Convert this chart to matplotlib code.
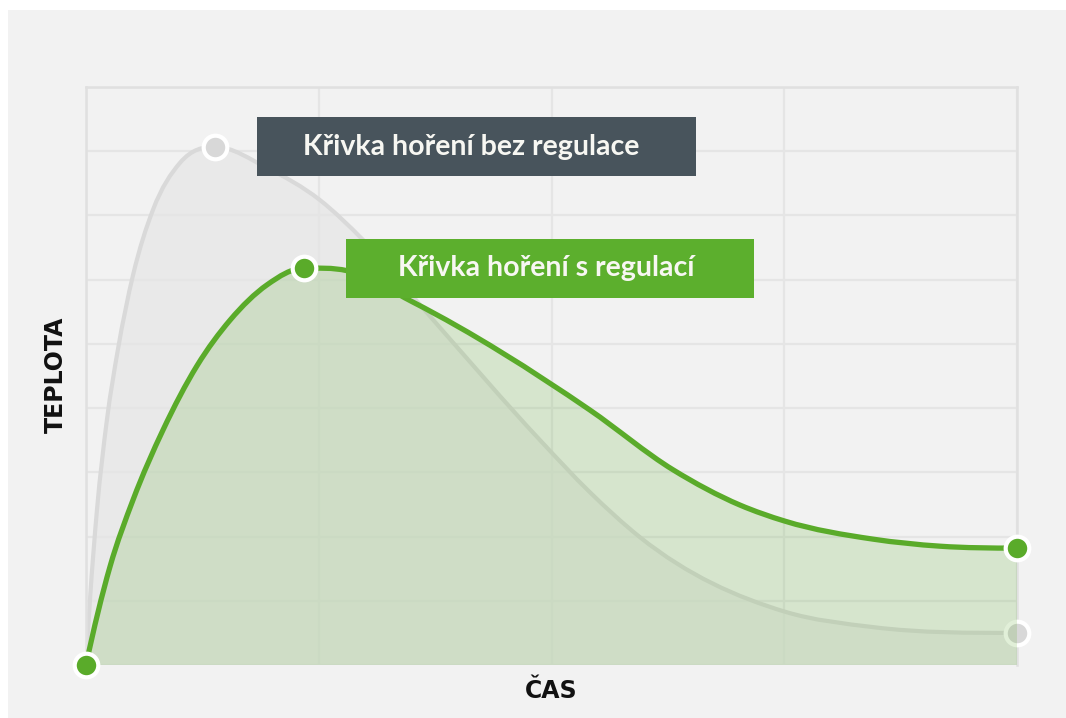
import numpy as np
import matplotlib.pyplot as plt
from matplotlib.path import Path
from matplotlib.patches import PathPatch, Rectangle

# values (x: 4 grid columns, y: 9 grid rows)
time_free = [0, 0.017, 0.047, 0.090, 0.137, 0.202, 0.288, 0.404, 0.554, 0.778,
             1.005, 1.190, 1.478, 1.951, 2.165, 2.380, 3.003, 3.381, 4.0]
temp_free = [0, 1.01, 2.41, 3.82, 4.91, 6.07, 7.09, 7.82, 8.07, 7.74,
             7.24, 6.62, 5.43, 3.50, 2.69, 1.99, 0.83, 0.59, 0.50]
time_reg = [0, 0.103, 0.202, 0.331, 0.477, 0.619, 0.778, 0.937, 1.121,
            1.405, 2.165, 2.522, 2.810, 3.003, 3.381, 3.669, 4.0]
temp_reg = [0, 1.53, 2.57, 3.66, 4.66, 5.37, 5.92, 6.18, 6.14,
            5.65, 3.97, 3.04, 2.49, 2.24, 1.96, 1.85, 1.82]
peak_free = 8
peak_reg = 7
label_free = 'Křivka hoření bez regulace'
label_reg = 'Křivka hoření s regulací'
xlabel = 'ČAS'
ylabel = 'TEPLOTA'

GREEN = '#5aab2a'
GRAY_LINE = '#d9d9d9'
BG = '#f2f2f2'


def slopes(x, y, peak):
    # tangents from the parabola through neighbouring points, flat at the peak
    x = np.asarray(x, float)
    y = np.asarray(y, float)
    h = np.diff(x)
    d = np.diff(y) / h
    m = np.zeros_like(y)
    m[1:-1] = (d[:-1] * h[1:] + d[1:] * h[:-1]) / (h[:-1] + h[1:])
    m[0] = d[0] + (d[0] - d[1]) * h[0] / (h[0] + h[1])
    m[-1] = d[-1] + (d[-1] - d[-2]) * h[-1] / (h[-2] + h[-1])
    if m[0] * d[0] < 0:
        m[0] = 0
    if m[-1] * d[-1] < 0:
        m[-1] = 0
    m[peak] = 0
    return m


def spline_path(x, y, peak, close=False):
    m = slopes(x, y, peak)
    verts = [(x[0], y[0])]
    codes = [Path.MOVETO]
    for k in range(len(x) - 1):
        h = x[k + 1] - x[k]
        verts += [(x[k] + h / 3, y[k] + m[k] * h / 3),
                  (x[k + 1] - h / 3, y[k + 1] - m[k + 1] * h / 3),
                  (x[k + 1], y[k + 1])]
        codes += [Path.CURVE4] * 3
    if close:
        verts += [(x[-1], 0), (x[0], 0), (x[0], y[0])]
        codes += [Path.LINETO, Path.LINETO, Path.CLOSEPOLY]
    return Path(verts, codes)


fig = plt.figure(figsize=(10.66, 7.18), dpi=100, facecolor='white')
fig.patches.append(Rectangle((8 / 1066, 0), 1, 1 - 10 / 718, transform=fig.transFigure,
                             facecolor=BG, edgecolor='none', zorder=-10))
ax = fig.add_axes([86 / 1066, 53 / 718, 931 / 1066, 578 / 718])
ax.set_facecolor('none')
ax.set_xlim(0, 4)
ax.set_ylim(0, 9)
ax.set_xticks(range(5))
ax.set_yticks(range(10))
ax.tick_params(length=0, labelbottom=False, labelleft=False)
ax.grid(True, color='#e5e5e5', lw=1.6, zorder=0)
for s in ['left', 'top', 'right']:
    ax.spines[s].set_color('#e0e0e0')
    ax.spines[s].set_linewidth(1.8)
ax.spines['bottom'].set_visible(False)

# curve without regulation
ax.add_patch(PathPatch(spline_path(time_free, temp_free, peak_free, close=True),
                       facecolor='#e9e9e9', edgecolor='none', zorder=1))
ax.add_patch(PathPatch(spline_path(time_free, temp_free, peak_free), facecolor='none',
                       edgecolor=GRAY_LINE, lw=3, zorder=2))
ax.plot([time_free[peak_free], time_free[-1]], [temp_free[peak_free], temp_free[-1]],
        'o', ms=17, mfc='#d8d8d8', mec='white', mew=3, clip_on=False, zorder=3)

# curve with regulation
ax.add_patch(PathPatch(spline_path(time_reg, temp_reg, peak_reg, close=True),
                       facecolor=GREEN, alpha=0.18, edgecolor='none', zorder=4))
ax.add_patch(PathPatch(spline_path(time_reg, temp_reg, peak_reg), facecolor='none',
                       edgecolor=GREEN, lw=3.8, zorder=5))
ax.plot([time_reg[0], time_reg[peak_reg], time_reg[-1]],
        [temp_reg[0], temp_reg[peak_reg], temp_reg[-1]],
        'o', ms=17, mfc=GREEN, mec='white', mew=3, clip_on=False, zorder=6)

# labels in boxes
ax.add_patch(Rectangle((0.1837, 0.846), 0.4715, 0.102, transform=ax.transAxes,
                       facecolor='#48545c', edgecolor='none', zorder=7))
ax.text(0.4135, 0.897, label_free, transform=ax.transAxes, ha='center', va='center',
        color='#f7f7f2', fontsize=20.5, fontweight='bold', family='Lato', zorder=8)
ax.add_patch(Rectangle((0.2793, 0.635), 0.4382, 0.102, transform=ax.transAxes,
                       facecolor='#5caf2d', edgecolor='none', zorder=7))
ax.text(0.494, 0.687, label_reg, transform=ax.transAxes, ha='center', va='center',
        color='#f7f7f2', fontsize=20.5, fontweight='bold', family='Lato', zorder=8)

fig.text(551 / 1066, 1 - 691 / 718, xlabel, ha='center', va='center', fontsize=17,
         fontweight='bold', family='DejaVu Sans', color='#111111')
fig.text(56 / 1066, 1 - 375 / 718, ylabel, ha='center', va='center', rotation=90,
         fontsize=17, fontweight='bold', family='DejaVu Sans', color='#111111')

fig.savefig('out.png', dpi=100, facecolor=fig.get_facecolor())
